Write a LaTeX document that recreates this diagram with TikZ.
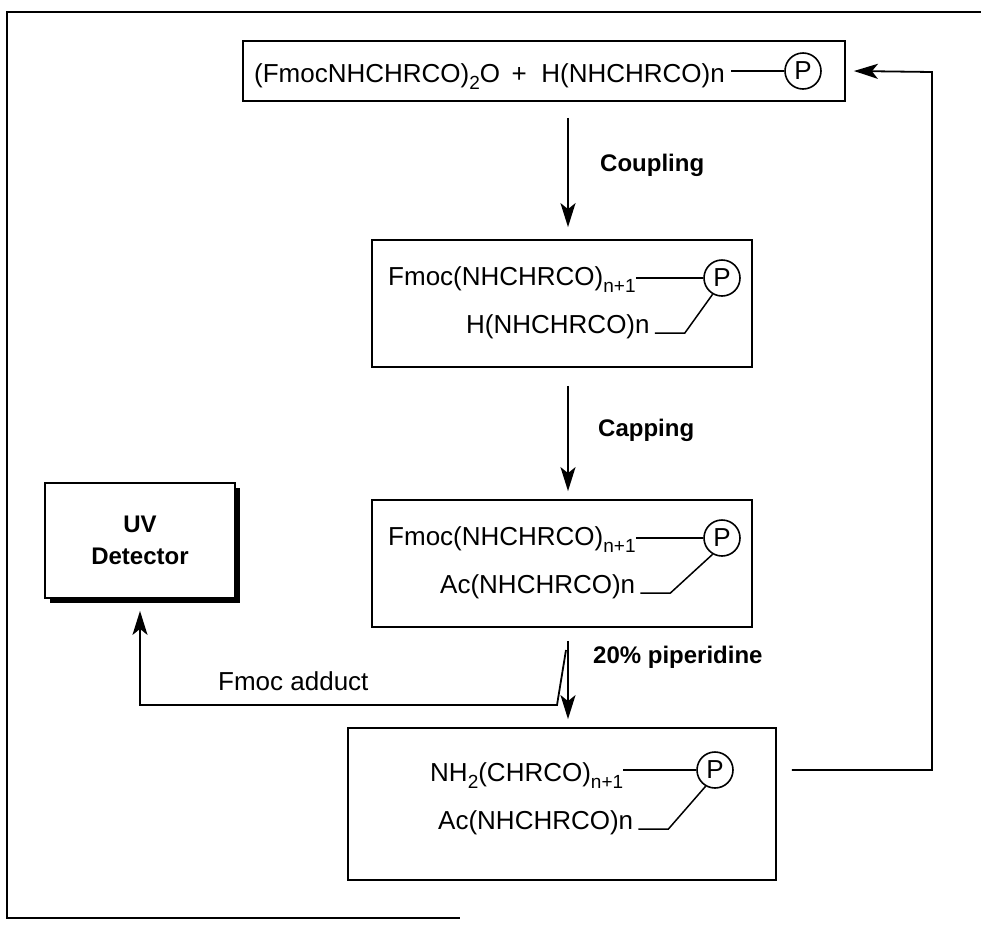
\documentclass[tikz,border=0pt]{standalone}
\usepackage{fontspec}
\setmainfont{Liberation Sans}
\usetikzlibrary{arrows.meta,positioning,calc,shadows}
\newcommand{\chemfont}{\fontsize{26}{30}\selectfont}
\newcommand{\labfont}{\fontsize{24}{32}\selectfont\bfseries}
\newcommand{\lowr}[1]{\raisebox{-0.28em}{\fontsize{19}{20}\selectfont #1}}
\tikzset{
  stage/.style={draw,line width=1.8pt,inner sep=0pt},
  chem/.style={inner sep=0pt,anchor=base west,font=\chemfont},
  resin/.style={circle,draw,line width=1.6pt,minimum size=36pt,inner sep=0pt,font=\chemfont},
  bond/.style={line width=1.5pt},
  flow/.style={line width=1.8pt,-{Stealth[length=24pt,width=15pt,inset=6pt]}},
  steplabel/.style={font=\labfont,anchor=west,inner sep=0pt}
}
\begin{document}
\begin{tikzpicture}[x=1pt,y=-1pt]
\useasboundingbox (0,0) rectangle (981,924);
% open frame of the scan
\draw[line width=1.8pt] (981,12) -- (7,12) -- (7,918) -- (460,918);

% the four stages
\node[stage,minimum width=602pt,minimum height=60pt] (top) at (544,71) {};
\node[stage,minimum width=380pt,minimum height=127pt] (coupled) at (562,303.5) {};
\node[stage,minimum width=380pt,minimum height=127pt] (capped) at (562,563.5) {};
\node[stage,minimum width=428pt,minimum height=152pt] (free) at (562,804) {};
\node[stage,fill=white,font=\labfont,align=center,minimum width=190pt,minimum height=115pt,
  drop shadow={shadow xshift=5pt,shadow yshift=-5pt,opacity=1,fill=black}] (uv) at (140,540.5) {UV\\Detector};

% top: anhydride + resin
\node[chem] (anhyd) at (254,82) {(FmocNHCHRCO)\lowr{2}O\ \,+\ \ H(NHCHRCO)n};
\node[resin] (p0) at (803,71) {P};
\draw[bond] ([xshift=6pt]anhyd.east |- p0.west) -- (p0.west);

% after coupling
\node[chem] (fmoc1) at (388,285) {Fmoc(NHCHRCO)\lowr{n+1}};
\node[resin] (p1) at (722,278) {P};
\draw[bond] (fmoc1.east |- p1.west) -- (p1.west);
\node[chem] (amine1) at (466,333) {H(NHCHRCO)n};
\draw[bond] ([xshift=5pt]amine1.base east) -- ++(30,0) -- (p1.240);

% after capping
\node[chem] (fmoc2) at (388,545) {Fmoc(NHCHRCO)\lowr{n+1}};
\node[resin] (p2) at (722,538) {P};
\draw[bond] (fmoc2.east |- p2.west) -- (p2.west);
\node[chem] (ac2) at (440,593) {Ac(NHCHRCO)n};
\draw[bond] ([xshift=5pt]ac2.base east) -- ++(30,0) -- (p2.240);

% after deprotection
\node[chem] (nh3) at (430,781) {NH\lowr{2}(CHRCO)\lowr{n+1}};
\node[resin] (p3) at (715,770) {P};
\draw[bond] (nh3.east |- p3.west) -- (p3.west);
\node[chem] (ac3) at (438,829) {Ac(NHCHRCO)n};
\draw[bond] ([xshift=5pt]ac3.base east) -- ++(30,0) -- (p3.240);

% main flow
\coordinate (col) at (568,0);
\draw[flow] ([yshift=-16pt]top.south -| col) -- ([yshift=12pt]coupled.north -| col);
\draw[flow] ([yshift=-18pt]coupled.south -| col) -- ([yshift=8pt]capped.north -| col);
\draw[flow] ([yshift=-13pt]capped.south -| col) -- ([yshift=8pt]free.north -| col);
\node[steplabel] (lcoup) at (600,165) {Coupling};
\node[steplabel] (lcap) at (598,430) {Capping};
\node[steplabel] (lpip) at (593,657) {20\% piperidine};

% adduct to the detector
\coordinate (split) at (566,650);
\draw[flow,shorten >=12pt] (split) -- (557,705) -| (uv.south);
\node[font=\chemfont,anchor=base west,inner sep=0pt] (ladd) at (218,690) {Fmoc adduct};

% recycle
\coordinate (loopc) at (932,72);
\draw[flow] ([xshift=15pt]free.east |- p3.east) -| (loopc) -- ([xshift=8pt]top.east);
\end{tikzpicture}
\end{document}
